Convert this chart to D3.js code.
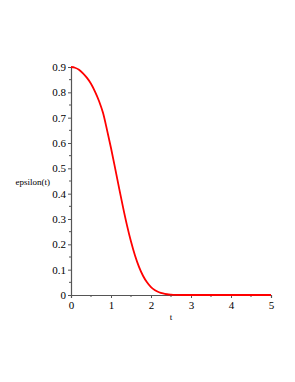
<!DOCTYPE html>
<html>
<head>
<meta charset="utf-8">
<script src="https://cdn.jsdelivr.net/npm/d3@7"></script>
<style>
  html, body { margin: 0; padding: 0; background: #fff; }
</style>
</head>
<body>
<svg id="chart" width="295" height="382"></svg>
<script>
// values
const tValues = [0, 0.1, 0.2, 0.3, 0.4, 0.5, 0.6, 0.7, 0.8, 0.9, 1.0, 1.1, 1.2, 1.3, 1.4, 1.5,
  1.6, 1.7, 1.8, 1.9, 2.0, 2.1, 2.2, 2.3, 2.4, 2.5, 2.6, 2.8, 3.0, 3.5, 4.0, 4.5, 5.0];
const epsValues = [0.9, 0.897, 0.889, 0.875, 0.857, 0.834, 0.803, 0.766, 0.719, 0.652, 0.58, 0.503,
  0.424, 0.347, 0.275, 0.211, 0.156, 0.111, 0.076, 0.05, 0.031, 0.019, 0.011, 0.006, 0.003,
  0.0015, 0.0006, 0.0001, 0, 0, 0, 0, 0];
const xTicks = [0, 1, 2, 3, 4, 5];
const yTicks = [0, 0.1, 0.2, 0.3, 0.4, 0.5, 0.6, 0.7, 0.8, 0.9];

const data = tValues.map((t, i) => ({ t: t, v: epsValues[i] }));

const width = 295;
const height = 382;
const margin = { top: 67, right: 24, bottom: 87, left: 71 };
const chartWidth = width - margin.left - margin.right;
const chartHeight = height - margin.top - margin.bottom;
const font = "'Liberation Serif', 'Times New Roman', serif";
const axisColor = "#555";

const x = d3.scaleLinear().domain([0, 5]).range([0, chartWidth]);
const y = d3.scaleLinear().domain([0, 0.9]).range([chartHeight, 0]);

const svg = d3.select("#chart")
  .append("g")
  .attr("transform", "translate(" + margin.left + "," + margin.top + ")");

// x axis
const xAxis = svg.append("g")
  .attr("transform", `translate(0,${chartHeight})`)
  .call(d3.axisBottom(x).tickValues(xTicks).tickFormat(d3.format("d")).tickSize(3).tickPadding(3));

xAxis.append("g")
  .selectAll("line")
  .data(d3.range(0.5, 5, 1))
  .join("line")
  .attr("x1", (d) => x(d))
  .attr("x2", (d) => x(d))
  .attr("y1", 0)
  .attr("y2", 2)
  .attr("stroke", axisColor);

// y axis
const yAxis = svg.append("g")
  .call(d3.axisLeft(y).tickValues(yTicks).tickFormat((d) => (d === 0 ? "0" : d3.format(".1f")(d))).tickSize(3).tickPadding(2));

yAxis.append("g")
  .selectAll("line")
  .data(d3.range(0.05, 0.9, 0.1))
  .join("line")
  .attr("x1", 0)
  .attr("x2", -2)
  .attr("y1", (d) => y(d))
  .attr("y2", (d) => y(d))
  .attr("stroke", axisColor);

svg.selectAll(".domain").attr("stroke", axisColor).attr("stroke-width", 1.2);
svg.selectAll(".tick line").attr("stroke", axisColor);
svg.selectAll(".tick text")
  .attr("font-family", font)
  .attr("font-size", 11)
  .attr("fill", "#000");

// axis titles
svg.append("text")
  .attr("x", x(2.5))
  .attr("y", chartHeight + 25)
  .attr("text-anchor", "middle")
  .attr("font-family", font)
  .attr("font-size", 9)
  .text("t");

svg.append("text")
  .attr("x", -21)
  .attr("y", y(0.45) + 4)
  .attr("text-anchor", "end")
  .attr("font-family", font)
  .attr("font-size", 9)
  .text("epsilon(t)");

// curve
svg.append("path")
  .datum(data)
  .attr("fill", "none")
  .attr("stroke", "#ff0000")
  .attr("stroke-width", 1.8)
  .attr("d", d3.line().x((d) => x(d.t)).y((d) => y(d.v)).curve(d3.curveMonotoneX));
</script>
</body>
</html>
